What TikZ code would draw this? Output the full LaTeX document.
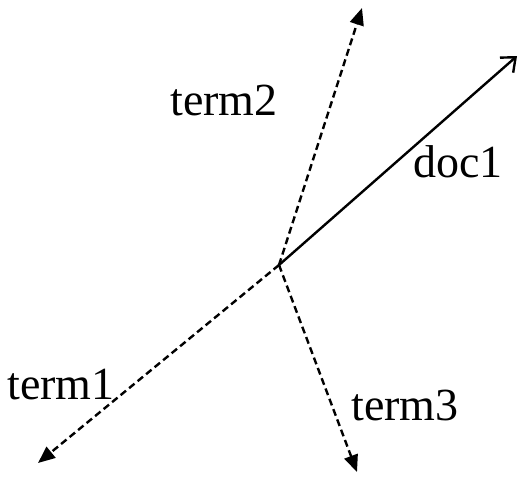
\documentclass[tikz,border=0pt]{standalone}
\usepackage{fontspec}
\setmainfont{Liberation Serif}
\usetikzlibrary{arrows.meta,positioning}

\begin{document}
\begin{tikzpicture}[x=1pt, y=-1pt, line width=2.4pt,
    term/.style={dashed, dash pattern=on 7pt off 4pt, -{Triangle[length=17pt,width=14pt]}},
    doc/.style={-{Straight Barb[length=12pt,width=20pt]}},
    lbl/.style={font=\fontsize{46}{55}\selectfont, inner sep=0pt}]
    \useasboundingbox (0,0) rectangle (526,490);
    % origine e punte dei vettori
    \coordinate (o) at (279,265);
    \coordinate (t1) at (38,463);
    \coordinate (t2) at (362,8);
    \coordinate (t3) at (357,472);
    \coordinate (d1) at (517,56);

    % vettori dei termini
    \draw[term] (o) -- (t1);
    \draw[term] (o) -- (t2);
    \draw[term] (o) -- (t3);
    % vettore del documento
    \draw[doc] (o) -- (d1);

    % etichette
    \node[lbl] (lterm2) at (224,100) {term2};
    \node[lbl] (ldoc1) at (458,162) {doc1};
    \node[lbl] (lterm1) at (61,385) {term1};
    \node[lbl] (lterm3) at (405,405) {term3};
\end{tikzpicture}
\end{document}
